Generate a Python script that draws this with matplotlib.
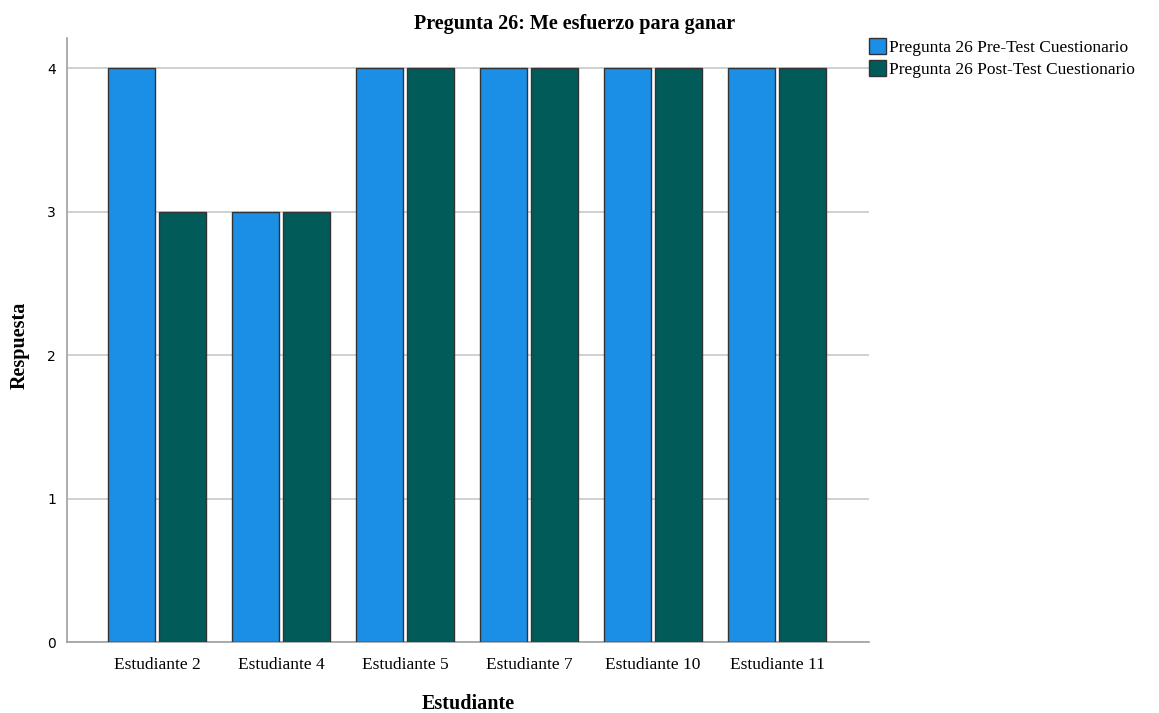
import numpy as np
import matplotlib; matplotlib.use("Agg")
import matplotlib.pyplot as plt
from matplotlib.patches import Patch

estudiantes = ["Estudiante 2", "Estudiante 4", "Estudiante 5", "Estudiante 7", "Estudiante 10", "Estudiante 11"]
pre_test = [4, 3, 4, 4, 4, 4]
post_test = [3, 3, 4, 4, 4, 4]
series_names = ["Pregunta 26 Pre-Test Cuestionario", "Pregunta 26 Post-Test Cuestionario"]
colors = ["#1a8fe5", "#005b59"]

SERIF = "Liberation Serif"
fig = plt.figure(figsize=(11.59, 7.13), dpi=100)
ax = fig.add_axes([67/1159, 1 - 642/713, (869-67)/1159, (642-38)/713])

x = np.arange(len(estudiantes))
w = 0.379; off = 0.206
ax.bar(x - off, pre_test, w, color=colors[0], edgecolor="#333333", linewidth=1, zorder=3)
ax.bar(x + off, post_test, w, color=colors[1], edgecolor="#333333", linewidth=1, zorder=3)

ax.set_xlim(-0.726, 5.742)
ax.set_ylim(0, 4.21)
ax.set_yticks([0, 1, 2, 3, 4])
ax.set_xticks(x)
ax.set_xticklabels(estudiantes, fontfamily=SERIF, fontsize=12.5)
ax.tick_params(axis="x", length=0, pad=11)
ax.tick_params(axis="y", length=0, labelsize=10, pad=8)
ax.grid(axis="y", color="#c8c8c8", linewidth=1.2, zorder=0)
for s in ["top", "right"]:
    ax.spines[s].set_visible(False)
for s in ["left", "bottom"]:
    ax.spines[s].set_color("#a0a0a0")
    ax.spines[s].set_linewidth(1.2)

fig.text(575/1159, 1 - 24/713, "Pregunta 26: Me esfuerzo para ganar", fontfamily=SERIF,
         fontweight="bold", fontsize=14.5, ha="center", va="center")
fig.text(468/1159, 1 - 704/713, "Estudiante", fontfamily=SERIF, fontweight="bold",
         fontsize=14.5, ha="center", va="center")
fig.text(20/1159, 1 - 345/713, "Respuesta", fontfamily=SERIF, fontweight="bold",
         fontsize=14.5, ha="center", va="center", rotation=90)

handles = [Patch(facecolor=c, edgecolor="#333333", label=n) for c, n in zip(colors, series_names)]
fig.legend(handles=handles, loc="upper left", bbox_to_anchor=(869/1159, 1 - 38/713), frameon=False,
           prop={"family": SERIF, "size": 12.5}, handlelength=1.0, handleheight=1.0,
           handletextpad=0.15, labelspacing=0.25, borderpad=0, borderaxespad=0)

fig.savefig("out.png", dpi=100)
